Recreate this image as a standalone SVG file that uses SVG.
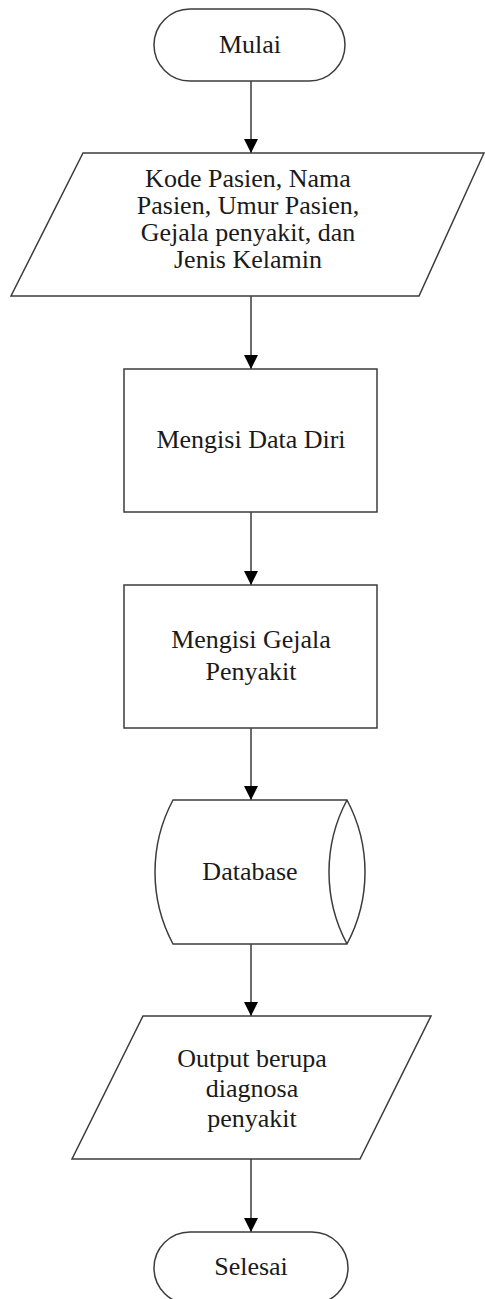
<svg xmlns="http://www.w3.org/2000/svg" width="485" height="1299" viewBox="0 0 485 1299">
  <style>
    .shape { fill: #ffffff; stroke: #3c3c3c; stroke-width: 1.5; }
    .flow { fill: none; stroke: #3c3c3c; stroke-width: 1.5; }
    .label { font-family: "Liberation Serif", "Times New Roman", serif; font-size: 26px; fill: #1a1a1a; text-anchor: middle; }
  </style>
  <defs>
    <marker id="arrow" markerUnits="userSpaceOnUse" markerWidth="14" markerHeight="14" refX="14" refY="7" orient="auto">
      <path d="M0,0 L14,7 L0,14 Z" fill="#000000"/>
    </marker>
  </defs>
  <rect width="485" height="1299" fill="#ffffff"/>

  <!-- connectors -->
  <g id="connectors">
    <line class="flow" x1="251" y1="81" x2="251" y2="153" marker-end="url(#arrow)"/>
    <line class="flow" x1="251" y1="296" x2="251" y2="369" marker-end="url(#arrow)"/>
    <line class="flow" x1="251" y1="512" x2="251" y2="585" marker-end="url(#arrow)"/>
    <line class="flow" x1="251" y1="728" x2="251" y2="800" marker-end="url(#arrow)"/>
    <line class="flow" x1="251" y1="944" x2="251" y2="1016" marker-end="url(#arrow)"/>
    <line class="flow" x1="251" y1="1159" x2="251" y2="1232" marker-end="url(#arrow)"/>
  </g>

  <!-- start terminator -->
  <g id="mulai">
    <rect class="shape" x="154" y="9" width="191" height="72" rx="36" ry="36"/>
    <text class="label" x="250" y="53">Mulai</text>
  </g>

  <!-- patient data input -->
  <g id="input-data">
    <polygon class="shape" points="83,153 484,153 419,296 11,296"/>
    <text class="label" x="248" y="187">Kode Pasien, Nama</text>
    <text class="label" x="248" y="214">Pasien, Umur Pasien,</text>
    <text class="label" x="248" y="241">Gejala penyakit, dan</text>
    <text class="label" x="248" y="268">Jenis Kelamin</text>
  </g>

  <!-- fill in personal data -->
  <g id="data-diri">
    <rect class="shape" x="124" y="369" width="253" height="143"/>
    <text class="label" x="251" y="448">Mengisi Data Diri</text>
  </g>

  <!-- fill in symptoms -->
  <g id="gejala">
    <rect class="shape" x="124" y="585" width="253" height="143"/>
    <text class="label" x="251" y="648">Mengisi Gejala</text>
    <text class="label" x="251" y="680">Penyakit</text>
  </g>

  <!-- stored data -->
  <g id="database">
    <path class="shape" d="M173,800 L347,800 A153,153 0 0 1 347,944 L173,944 A153,153 0 0 1 173,800 Z"/>
    <path class="shape" d="M347,800 A153,153 0 0 0 347,944"/>
    <text class="label" x="250" y="880">Database</text>
  </g>

  <!-- diagnosis output -->
  <g id="output">
    <polygon class="shape" points="143,1016 431,1016 360,1159 72,1159"/>
    <text class="label" x="252" y="1067">Output berupa</text>
    <text class="label" x="252" y="1097">diagnosa</text>
    <text class="label" x="252" y="1127">penyakit</text>
  </g>

  <!-- end terminator -->
  <g id="selesai">
    <rect class="shape" x="154" y="1232" width="194" height="72" rx="36" ry="36"/>
    <text class="label" x="251" y="1275">Selesai</text>
  </g>
</svg>
